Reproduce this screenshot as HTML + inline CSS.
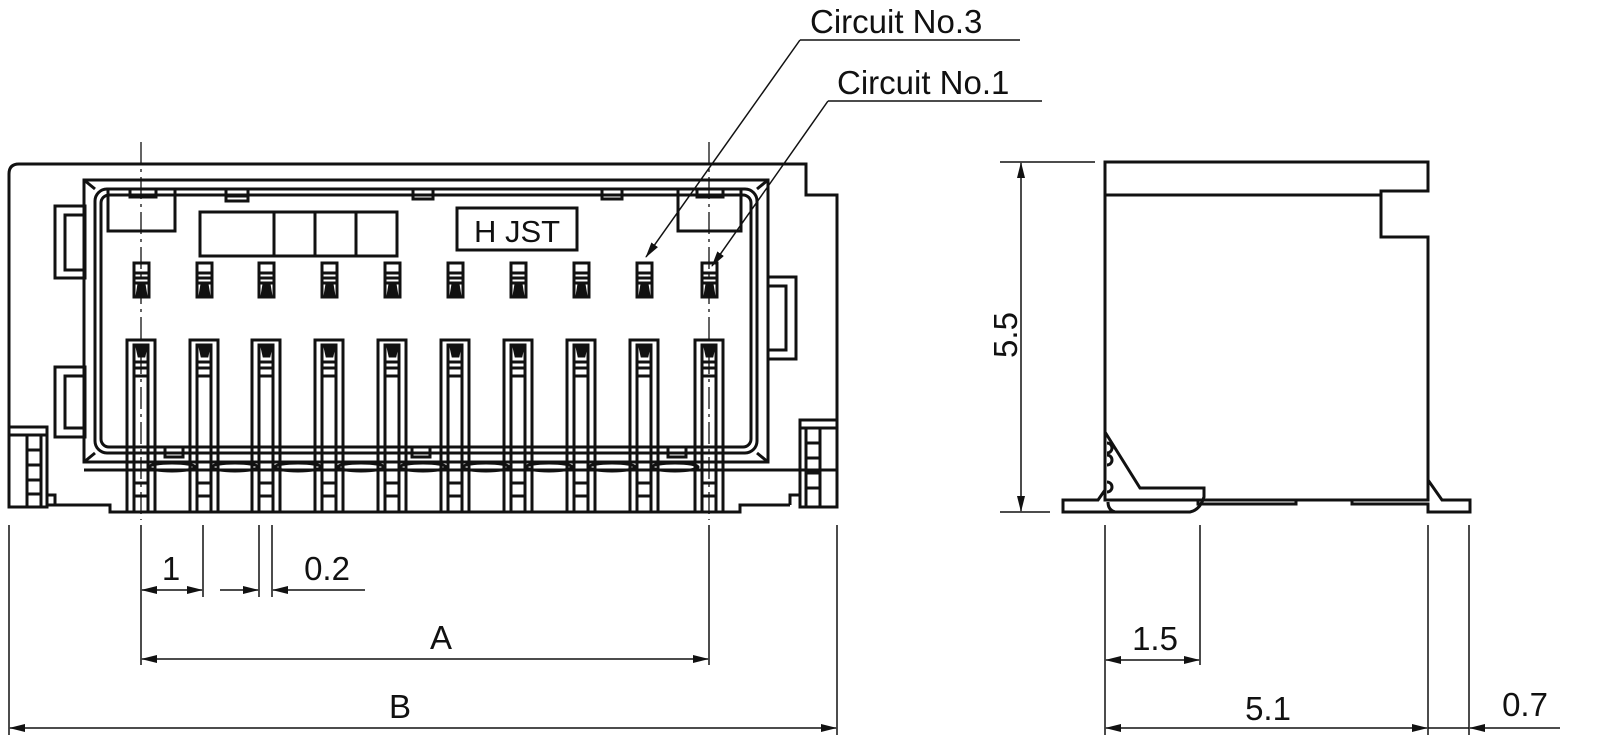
<!DOCTYPE html>
<html><head><meta charset="utf-8"><style>
html,body{margin:0;padding:0;background:#fff;}
svg{display:block;}
text{font-family:"Liberation Sans",sans-serif;fill:#111;}
</style></head><body>
<svg width="1600" height="756" viewBox="0 0 1600 756" xmlns="http://www.w3.org/2000/svg">
<defs>
<marker id="ar" markerWidth="16" markerHeight="8" refX="15" refY="4" orient="auto" markerUnits="userSpaceOnUse">
<path d="M0,0 L16,4 L0,8 Z" fill="#111"/></marker>
<g id="pin" fill="none" stroke="#111" stroke-width="3">
<rect x="-7" y="263" width="15" height="34"/>
<line x1="-7" y1="273" x2="8" y2="273"/><line x1="-7" y1="278" x2="8" y2="278"/><line x1="-7" y1="283" x2="8" y2="283"/>
<path d="M-4,296 L-2,284 L3,284 L5,296 Z" fill="#111"/>
<rect x="-14" y="340" width="28" height="172"/>
<rect x="-7" y="345" width="14" height="167"/>
<path d="M-4,347 L5,347 L3,356 L-2,356 Z" fill="#111"/>
<line x1="-7" y1="362" x2="7" y2="362"/><line x1="-7" y1="368" x2="7" y2="368"/><line x1="-7" y1="376" x2="7" y2="376"/>
<line x1="-7" y1="470" x2="7" y2="470"/><line x1="-7" y1="483" x2="7" y2="483"/><line x1="-7" y1="496" x2="7" y2="496"/>
</g>
</defs>

<g fill="none" stroke="#111" stroke-width="3">
<path d="M9,427 L9,174 Q9,164 19,164 L806,164 L806,195 L837,195 L837,420"/>
<path d="M47,505 L110,505 L110,512 L740,512 L740,505 L790,505"/>
<rect x="84" y="180" width="684" height="282"/>
<rect x="95" y="189" width="662" height="264" rx="12"/>
<rect x="101" y="195" width="650" height="252" rx="8"/>
<line x1="84" y1="180" x2="95" y2="189"/><line x1="768" y1="180" x2="757" y2="189"/>
<line x1="84" y1="462" x2="95" y2="453"/><line x1="768" y1="462" x2="757" y2="453"/>
<rect x="55" y="206" width="30" height="72"/><rect x="65" y="215" width="20" height="55"/>
<rect x="55" y="367" width="30" height="70"/><rect x="65" y="376" width="20" height="52"/>
<rect x="768" y="277" width="28" height="82"/><rect x="768" y="286" width="18" height="64"/>
<rect x="9" y="427" width="38" height="80"/>
<line x1="9" y1="435" x2="47" y2="435"/>
<rect x="27" y="435" width="14" height="72"/>
<line x1="27" y1="450" x2="41" y2="450"/><line x1="27" y1="465" x2="41" y2="465"/><line x1="27" y1="480" x2="41" y2="480"/><line x1="27" y1="494" x2="41" y2="494"/>
<path d="M47,495 L55,495 L55,505"/>
<rect x="800" y="420" width="37" height="87"/>
<line x1="800" y1="428" x2="837" y2="428"/>
<rect x="806" y="428" width="14" height="79"/>
<line x1="806" y1="443" x2="820" y2="443"/><line x1="806" y1="458" x2="820" y2="458"/><line x1="806" y1="473" x2="820" y2="473"/><line x1="806" y1="488" x2="820" y2="488"/>
<path d="M800,495 L790,495 L790,505"/>
<rect x="108" y="189" width="67" height="42"/>
<rect x="130" y="189" width="26" height="8"/>
<rect x="678" y="189" width="63" height="42"/>
<rect x="697" y="189" width="26" height="8"/>
<rect x="226" y="189" width="22" height="12"/><rect x="226" y="196" width="22" height="5"/>
<rect x="413" y="189" width="20" height="10"/>
<rect x="602" y="189" width="20" height="10"/>
<rect x="200" y="212" width="197" height="44"/>
<line x1="274" y1="212" x2="274" y2="256"/><line x1="315" y1="212" x2="315" y2="256"/><line x1="356" y1="212" x2="356" y2="256"/>
<rect x="457" y="208" width="120" height="42"/>
<rect x="165" y="447" width="18" height="10"/>
<rect x="412" y="447" width="18" height="10"/>
<rect x="668" y="447" width="18" height="10"/>
<line x1="84" y1="470" x2="837" y2="470"/>
</g>
<g fill="none" stroke="#111" stroke-width="3">
<ellipse cx="172" cy="467" rx="23" ry="4"/><ellipse cx="235" cy="467" rx="23" ry="4"/><ellipse cx="298" cy="467" rx="23" ry="4"/>
<ellipse cx="361" cy="467" rx="23" ry="4"/><ellipse cx="423" cy="467" rx="23" ry="4"/><ellipse cx="486" cy="467" rx="23" ry="4"/>
<ellipse cx="549" cy="467" rx="23" ry="4"/><ellipse cx="612" cy="467" rx="23" ry="4"/><ellipse cx="675" cy="467" rx="23" ry="4"/>
</g>
<g fill="#fff">
<use href="#pin" x="141"/><use href="#pin" x="204"/><use href="#pin" x="266"/><use href="#pin" x="329"/><use href="#pin" x="392"/>
<use href="#pin" x="455"/><use href="#pin" x="518"/><use href="#pin" x="581"/><use href="#pin" x="644"/><use href="#pin" x="709"/>
</g>
<text x="517" y="242" font-size="31" text-anchor="middle">H JST</text>
<g stroke="#111" stroke-width="1.3" stroke-dasharray="22,5,3,5">
<line x1="141" y1="142" x2="141" y2="520"/><line x1="709" y1="142" x2="709" y2="520"/>
</g>

<g stroke="#111" stroke-width="1.5" fill="none">
<line x1="800" y1="40" x2="1020" y2="40"/><line x1="800" y1="40" x2="646" y2="257" marker-end="url(#ar)"/>
<line x1="828" y1="101" x2="1042" y2="101"/><line x1="828" y1="101" x2="712" y2="266" marker-end="url(#ar)"/>
</g>
<text x="810" y="33" font-size="33">Circuit No.3</text>
<text x="837" y="94" font-size="33">Circuit No.1</text>

<g stroke="#111" stroke-width="1.5" fill="none">
<line x1="9" y1="525" x2="9" y2="735"/><line x1="837" y1="525" x2="837" y2="735"/>
<line x1="141" y1="525" x2="141" y2="665"/><line x1="709" y1="525" x2="709" y2="665"/>
<line x1="203" y1="525" x2="203" y2="597"/><line x1="259" y1="525" x2="259" y2="597"/><line x1="272" y1="525" x2="272" y2="597"/>
<line x1="170" y1="590" x2="142" y2="590" marker-end="url(#ar)"/><line x1="170" y1="590" x2="202" y2="590" marker-end="url(#ar)"/>
<line x1="220" y1="590" x2="258" y2="590" marker-end="url(#ar)"/><line x1="365" y1="590" x2="273" y2="590" marker-end="url(#ar)"/>
<line x1="425" y1="659" x2="142" y2="659" marker-end="url(#ar)"/><line x1="425" y1="659" x2="708" y2="659" marker-end="url(#ar)"/>
<line x1="420" y1="728" x2="10" y2="728" marker-end="url(#ar)"/><line x1="420" y1="728" x2="836" y2="728" marker-end="url(#ar)"/>
</g>
<text x="171" y="580" font-size="33" text-anchor="middle">1</text>
<text x="327" y="580" font-size="33" text-anchor="middle">0.2</text>
<text x="441" y="649" font-size="33" text-anchor="middle">A</text>
<text x="400" y="718" font-size="33" text-anchor="middle">B</text>

<g fill="none" stroke="#111" stroke-width="3">
<path d="M1105,162 L1428,162 L1428,191 L1381,191 L1381,237 L1428,237 L1428,500 L1105,500 Z"/>
<line x1="1105" y1="195" x2="1381" y2="195"/>
<path d="M1105,432 L1140,488 L1204,488 L1204,497 Q1200,510 1190,512 L1115,512 Q1108,510 1108,502"/>
<path d="M1107,443 a5,5 0 0 1 0,10 M1107,455 a5,5 0 0 1 0,10 M1107,482 a5,5 0 0 1 0,10"/>
<path d="M1105,490 L1098,500 L1063,500 L1063,512 L1115,512"/>
<path d="M1198,500 L1198,504 L1296,504 L1296,500"/>
<path d="M1352,500 L1352,504 L1428,504 L1428,512 L1470,512 L1470,500 L1442,500 L1428,480"/>
</g>
<g stroke="#111" stroke-width="1.5" fill="none">
<line x1="1000" y1="162" x2="1095" y2="162"/><line x1="1000" y1="512" x2="1050" y2="512"/>
<line x1="1021" y1="330" x2="1021" y2="163" marker-end="url(#ar)"/><line x1="1021" y1="330" x2="1021" y2="511" marker-end="url(#ar)"/>
<line x1="1105" y1="525" x2="1105" y2="735"/><line x1="1200" y1="525" x2="1200" y2="665"/>
<line x1="1428" y1="525" x2="1428" y2="735"/><line x1="1469" y1="525" x2="1469" y2="735"/>
<line x1="1150" y1="660" x2="1106" y2="660" marker-end="url(#ar)"/><line x1="1150" y1="660" x2="1199" y2="660" marker-end="url(#ar)"/>
<line x1="1260" y1="728" x2="1106" y2="728" marker-end="url(#ar)"/><line x1="1260" y1="728" x2="1427" y2="728" marker-end="url(#ar)"/>
<line x1="1428" y1="728" x2="1469" y2="728"/>
<line x1="1560" y1="728" x2="1470" y2="728" marker-end="url(#ar)"/>
</g>
<text x="0" y="0" font-size="33" text-anchor="middle" transform="translate(1017,335) rotate(-90)">5.5</text>
<text x="1155" y="650" font-size="33" text-anchor="middle">1.5</text>
<text x="1268" y="720" font-size="33" text-anchor="middle">5.1</text>
<text x="1525" y="716" font-size="33" text-anchor="middle">0.7</text>
</svg>
</body></html>
